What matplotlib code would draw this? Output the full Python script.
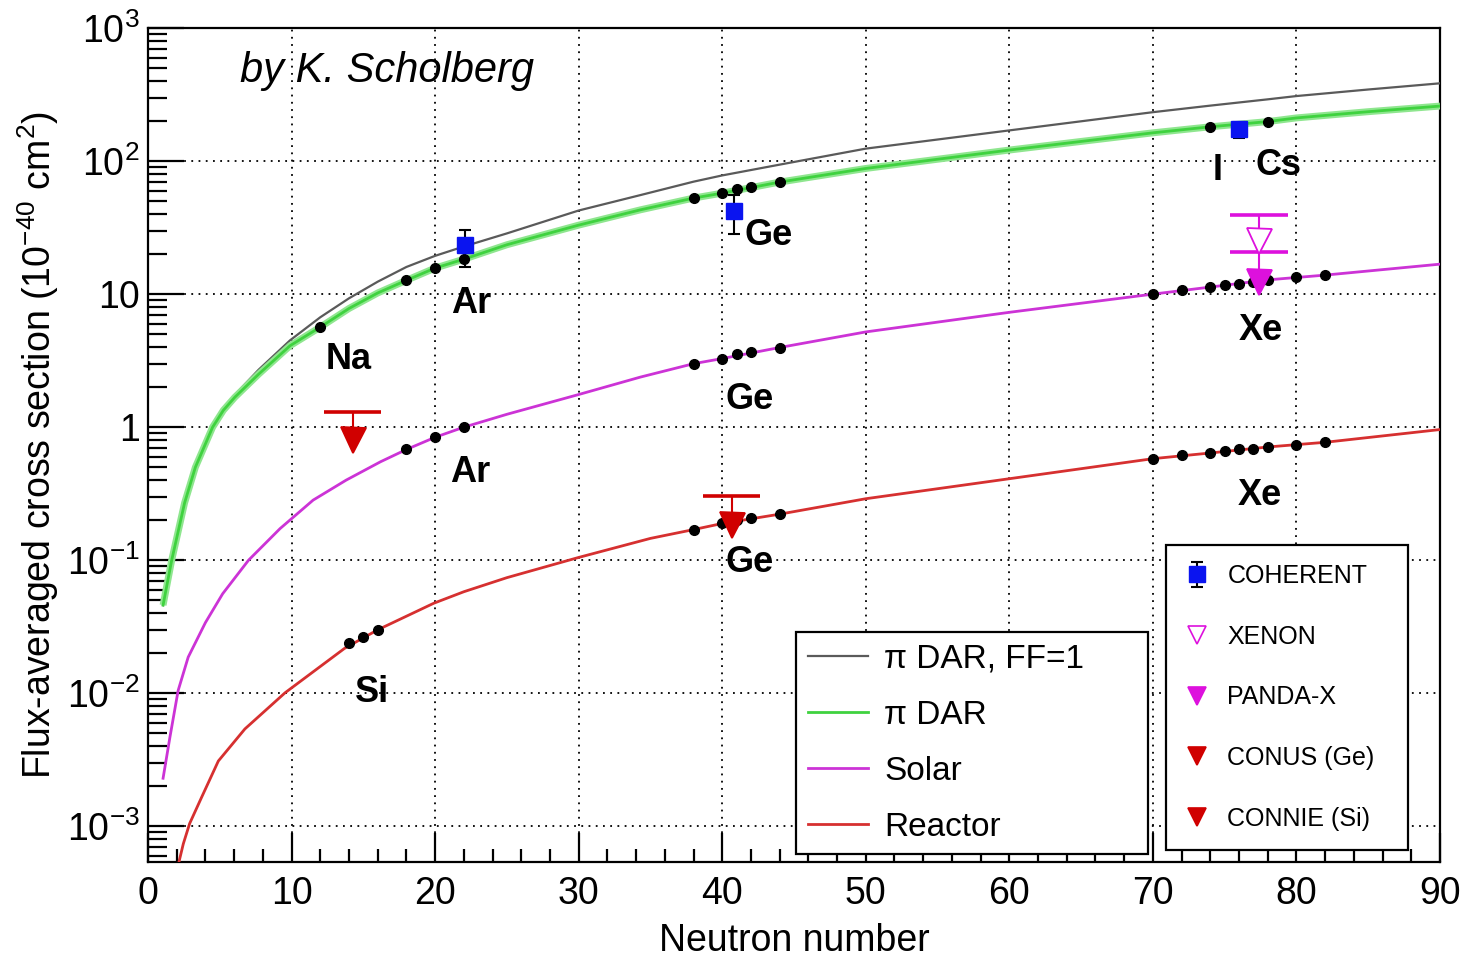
import matplotlib
matplotlib.use("Agg")
import matplotlib.pyplot as plt
from matplotlib.ticker import MultipleLocator, FixedLocator, LogLocator, NullFormatter
from matplotlib.lines import Line2D

plt.rcParams["font.family"] = ["Liberation Sans", "DejaVu Sans"]
plt.rcParams["mathtext.fontset"] = "custom"
plt.rcParams["mathtext.rm"] = "Liberation Sans"
plt.rcParams["mathtext.it"] = "Liberation Sans:italic"
plt.rcParams["mathtext.bf"] = "Liberation Sans:bold"

# curves: neutron number vs cross section (1e-40 cm^2)
n_dar = [1.05, 1.65, 2.55, 3.3, 4.5, 5.25, 6.05, 7.7, 9.9, 12, 14, 16, 18, 20, 22, 25,
         30, 34.3, 38, 40, 44, 50, 60, 70, 74, 78, 80, 85, 90]
dar_ff1 = [0.046, 0.1, 0.27, 0.5, 1.02, 1.36, 1.75, 2.7, 4.5, 6.7, 9.3, 12.4, 16.0,
           19.4, 22.8, 28.6, 42.5, 55.5, 70, 78, 94, 124, 170, 233, 261, 291, 308,
           345, 384]
dar = [0.046, 0.1, 0.27, 0.5, 1.0, 1.34, 1.68, 2.5, 4.1, 5.65, 7.8, 10.2, 12.7, 15.7,
       18.3, 23.5, 33, 43, 52.7, 57.4, 69.5, 88, 121, 163, 181, 198, 211, 235, 259]

n_solar = [1.05, 1.53, 2.1, 2.8, 4.0, 5.2, 7.0, 9.2, 11.5, 13.8, 16.2, 18, 20, 22, 25,
           30, 34.3, 38, 40, 44, 50, 60, 70, 74, 78, 82, 90]
solar = [0.0023, 0.0047, 0.0105, 0.0187, 0.034, 0.056, 0.1, 0.173, 0.283, 0.40, 0.55,
         0.68, 0.84, 1.0, 1.25, 1.76, 2.38, 3.0, 3.28, 3.97, 5.2, 7.3, 10.0, 11.3,
         12.8, 13.9, 16.8]

n_reactor = [2.0, 2.46, 2.9, 3.74, 4.9, 6.75, 9.55, 13.7, 16, 19.9, 22, 25, 30, 35,
             38, 40, 44, 50, 60, 70, 74, 78, 82, 90]
reactor = [0.00046, 0.00074, 0.00105, 0.00166, 0.0031, 0.0054, 0.0101, 0.0218, 0.030,
           0.0475, 0.058, 0.074, 0.105, 0.146, 0.17, 0.189, 0.222, 0.29, 0.41, 0.58,
           0.64, 0.71, 0.77, 0.96]

# isotope points
n_dar_pts = [12, 18, 20, 22, 38, 40, 41, 42, 44, 74, 78]
dar_pts = [5.65, 12.7, 15.7, 18.3, 52.7, 57.4, 61.5, 63.8, 69.5, 181, 198]
n_solar_pts = [18, 20, 22, 38, 40, 41, 42, 44, 70, 72, 74, 75, 76, 77, 78, 80, 82]
solar_pts = [0.68, 0.84, 1.0, 3.01, 3.28, 3.54, 3.68, 3.97, 10.0, 10.8, 11.4, 11.8,
             11.9, 12.3, 12.8, 13.4, 13.9]
n_reactor_pts = [14, 15, 16, 38, 40, 41, 42, 44, 70, 72, 74, 75, 76, 77, 78, 80, 82]
reactor_pts = [0.0238, 0.0264, 0.030, 0.170, 0.189, 0.202, 0.206, 0.222, 0.58, 0.62,
               0.64, 0.66, 0.68, 0.69, 0.71, 0.74, 0.77]

# COHERENT measurements
coh_n = [22.1, 40.8, 76.0]
coh_val = [23.2, 42.1, 173]
coh_err = [7.3, 13.8, 23]

# upper limits: (N, limit value, arrow head value)
xenon = (77.4, 39.3, 25.1)
pandax = (77.4, 20.8, 12.4)
conus = (40.65, 0.304, 0.183)
connie = (14.25, 1.29, 0.80)

# element labels (baseline positions)
lbl_text = ["Na", "Ar", "Ge", "I", "Cs", "Xe", "Ge", "Ar", "Xe", "Ge", "Si"]
lbl_n = [13.95, 22.5, 43.2, 74.5, 78.75, 77.55, 41.9, 22.45, 77.45, 41.9, 15.6]
lbl_y = [2.72, 7.16, 23.4, 72, 78.5, 4.51, 1.38, 0.388, 0.259, 0.081, 0.0086]

C_GRAY = "#5a5a5a"
C_GREEN = "#3fd23f"
C_MAG = "#cc33d6"
C_RED = "#d63030"
C_LIMRED = "#d00000"
C_LIMMAG = "#dd11dd"

fig = plt.figure(figsize=(14.68, 9.61), dpi=100)
ax = fig.add_axes([148 / 1468, 1 - 862 / 961, 1292 / 1468, 834 / 961])

l_ff1, = ax.plot(n_dar, dar_ff1, color=C_GRAY, lw=1.6, zorder=3)
ax.plot(n_dar, dar, color="#8fe68f", lw=5, zorder=3, solid_capstyle="butt")
l_dar, = ax.plot(n_dar, dar, color=C_GREEN, lw=2, zorder=3)
l_sol, = ax.plot(n_solar, solar, color=C_MAG, lw=2, zorder=3)
l_rea, = ax.plot(n_reactor, reactor, color=C_RED, lw=2, zorder=3)

for xs, ys in [(n_dar_pts, dar_pts), (n_solar_pts, solar_pts), (n_reactor_pts, reactor_pts)]:
    ax.plot(xs, ys, "o", color="black", ms=7, zorder=5)

coh = ax.errorbar(coh_n, coh_val, yerr=coh_err, fmt="s", color="#0a14f0", ms=11,
                  ecolor="black", elinewidth=1.5, capsize=4, capthick=1.5, zorder=6)


def draw_limit(lim, color, face):
    n, top, head = lim
    ax.hlines(top, n - 2, n + 2, color=color, lw=2.6, zorder=6)
    ax.vlines(n, head, top, color=color, lw=1.5, zorder=6)
    ax.plot([n], [head], "v", ms=18, color=color, mfc=face, mew=1.3, zorder=7)


draw_limit(xenon, C_LIMMAG, "white")
draw_limit(pandax, C_LIMMAG, C_LIMMAG)
draw_limit(conus, C_LIMRED, C_LIMRED)
draw_limit(connie, C_LIMRED, C_LIMRED)

for t, x, y in zip(lbl_text, lbl_n, lbl_y):
    ax.text(x, y, t, fontsize=26, fontweight="bold", ha="center", va="baseline", zorder=8)

ax.text(0.0712, 0.935, "by K. Scholberg", transform=ax.transAxes, fontsize=30,
        style="italic", ha="left", va="baseline")

ax.set_yscale("log")
ax.set_xlim(0, 90)
ax.set_ylim(5.4e-4, 1000)

ax.xaxis.set_major_locator(MultipleLocator(10))
ax.xaxis.set_minor_locator(MultipleLocator(2))
ax.yaxis.set_major_locator(FixedLocator([1e-3, 1e-2, 1e-1, 1, 10, 100, 1000]))
ax.yaxis.set_minor_locator(LogLocator(base=10, subs=range(2, 10), numticks=30))
ax.yaxis.set_minor_formatter(NullFormatter())
ax.set_yticklabels(["$10^{-3}$", "$10^{-2}$", "$10^{-1}$", "1", "10", "$10^{2}$", "$10^{3}$"])

ax.tick_params(axis="both", which="both", direction="in", top=False, right=False,
               width=1.6, labelsize=27)
ax.tick_params(axis="y", which="major", length=26, pad=6)
ax.tick_params(axis="y", which="minor", length=14)
ax.tick_params(axis="x", which="major", length=21, pad=10)
ax.tick_params(axis="x", which="minor", length=9.5)

ax.grid(True, which="major", color="black", linestyle=(0, (1, 3)), lw=1.3)
for sp in ax.spines.values():
    sp.set_linewidth(1.6)

ax.set_xlabel("Neutron number", fontsize=27, labelpad=8)
ax.set_ylabel("Flux-averaged cross section (10$^{-40}$ cm$^{2}$)", fontsize=27, labelpad=4)

leg1 = ax.legend([l_ff1, l_dar, l_sol, l_rea],
                 ["\u03c0 DAR, FF=1", "\u03c0 DAR", "Solar", "Reactor"],
                 loc="upper left", bbox_to_anchor=(0.5015, 0.012, 0.2725, 0.2638),
                 mode="expand", fontsize=24, frameon=True, fancybox=False,
                 edgecolor="black", framealpha=1, borderpad=0.35, labelspacing=0.75,
                 handlelength=1.8, handletextpad=0.5, borderaxespad=0)
leg1.get_frame().set_linewidth(1.6)
ax.add_artist(leg1)

proxy = [Line2D([], [], ls="none", marker="v", ms=13, color=c, mfc=f, mew=1.2)
         for c, f in [(C_LIMMAG, "white"), (C_LIMMAG, C_LIMMAG),
                      (C_LIMRED, C_LIMRED), (C_LIMRED, C_LIMRED)]]
leg2 = ax.legend([coh] + proxy,
                 ["COHERENT", "XENON", "PANDA-X", "CONUS (Ge)", "CONNIE (Si)"],
                 loc="upper left", bbox_to_anchor=(0.788, 0.012, 0.1873, 0.368),
                 mode="expand", fontsize=18, frameon=True, fancybox=False,
                 edgecolor="black", framealpha=1, borderpad=0.75, labelspacing=1.47,
                 handlelength=1.0, handletextpad=0.7, borderaxespad=0)
leg2.get_frame().set_linewidth(1.6)

fig.savefig("out.png", dpi=100)
